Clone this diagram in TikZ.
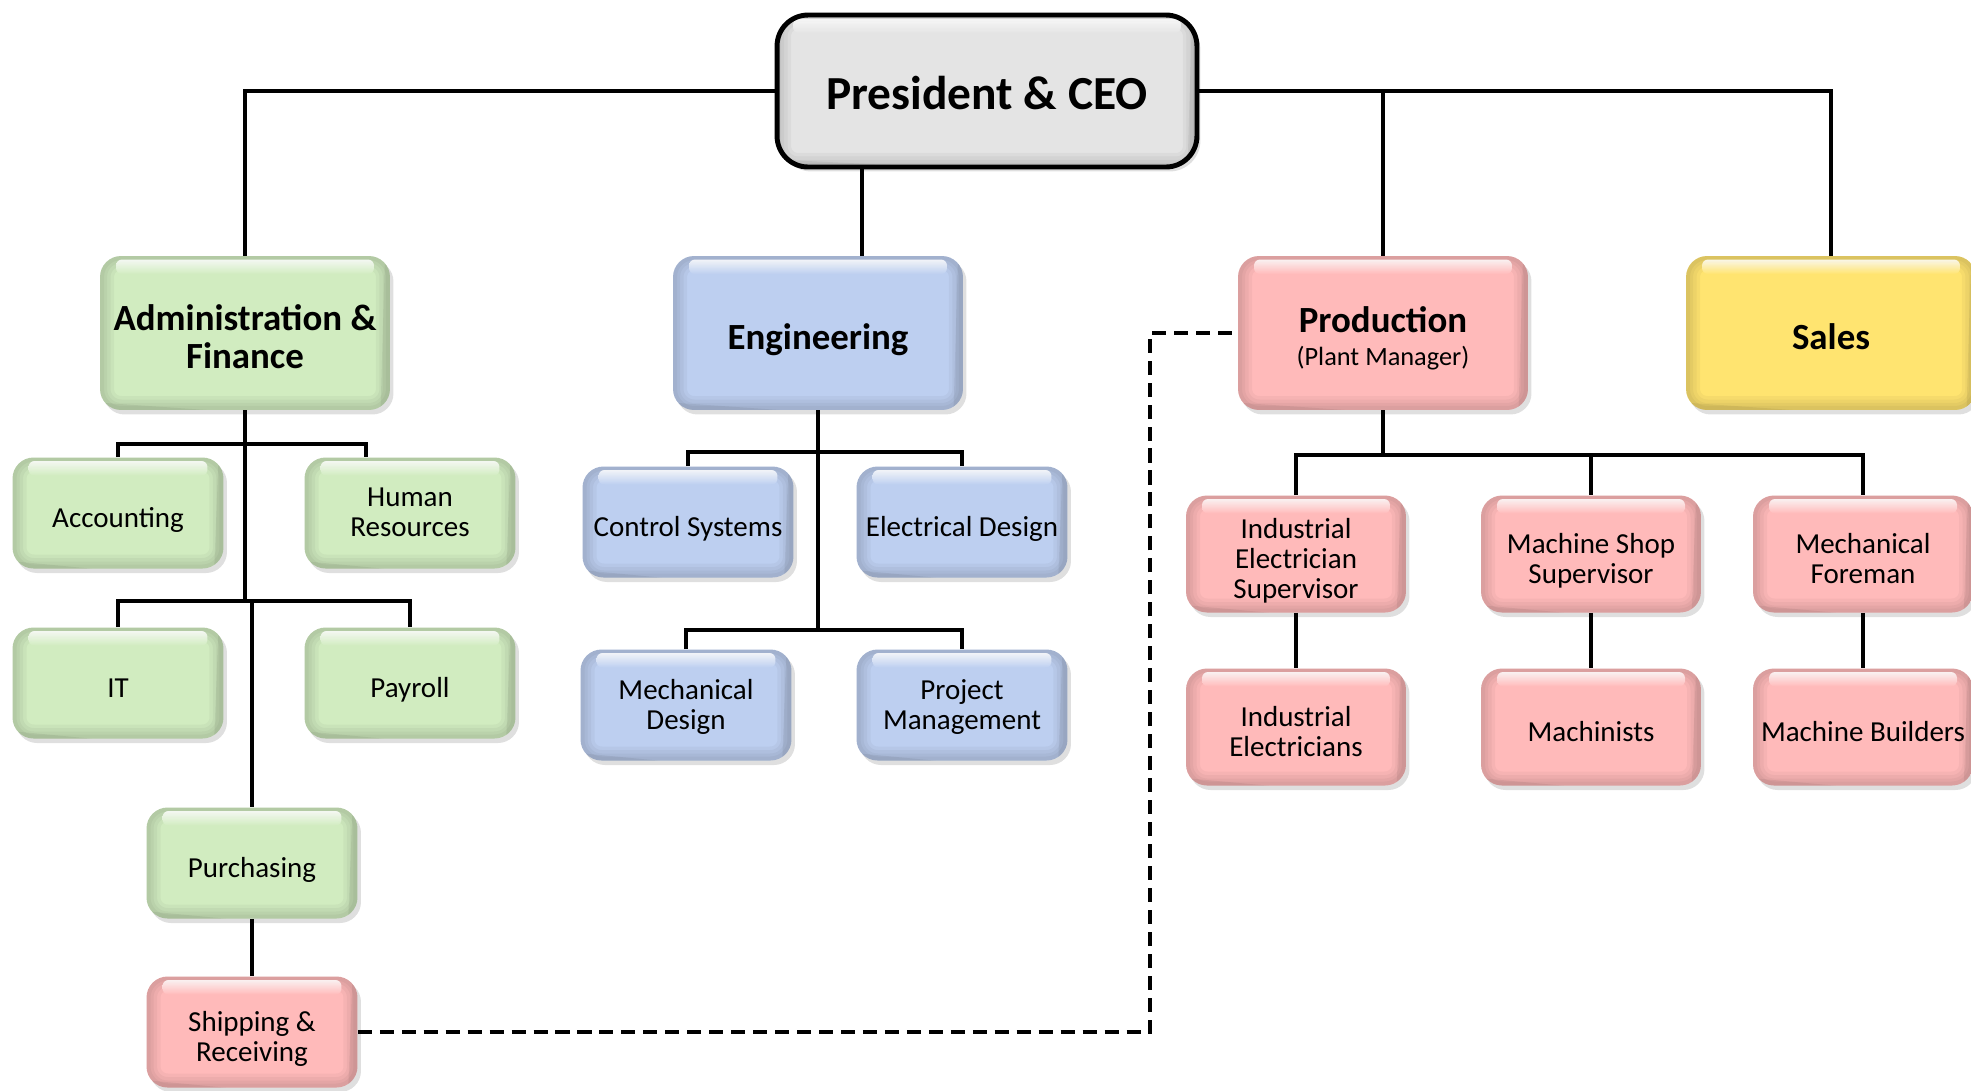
\documentclass[tikz,border=0pt]{standalone}
\usepackage{fontspec}
\setmainfont{Carlito}
\usetikzlibrary{shadows}
\definecolor{cgreen}{RGB}{209,236,192}
\definecolor{cblue}{RGB}{189,207,240}
\definecolor{cpink}{RGB}{255,186,186}
\definecolor{cyellow}{RGB}{255,228,112}
\definecolor{cgray}{RGB}{228,228,228}
\newcommand{\lbl}[2][-5pt]{\raisebox{#1}[\height][\depth]{\begin{tabular}{@{}c@{}}#2\end{tabular}}}
\tikzset{
  conn/.style={line width=2pt},
  dashconn/.style={line width=2.2pt, dash pattern=on 8pt off 4.5pt},
  orgbox/.style={rounded corners=0.42cm, fill=#1, align=center, inner sep=2pt,
    font=\fontsize{16.5}{17}\selectfont,
    drop shadow={shadow xshift=0.07cm, shadow yshift=-0.09cm, opacity=0.25},
    path picture={
      \foreach \w in {0.56,0.42,0.28,0.16}{
        \draw[black, opacity=0.035, line width=\w cm, rounded corners=0.42cm]
          (path picture bounding box.south west) rectangle (path picture bounding box.north east);
      }
      \draw[black, opacity=0.06, line width=0.3cm, rounded corners=0.42cm]
        ([xshift=-0.05cm]path picture bounding box.south west) -- ([xshift=-0.05cm,yshift=-0.4cm]path picture bounding box.south east)
        -- ([yshift=-0.05cm,xshift=0.05cm]path picture bounding box.north east);
      \shade[top color=white, bottom color=#1, opacity=0.85, rounded corners=0.12cm]
        ([xshift=0.32cm,yshift=-0.07cm]path picture bounding box.north west) rectangle
        ([xshift=-0.32cm,yshift=-0.36cm]path picture bounding box.north east);
    }},
  smallbox/.style={orgbox=#1, minimum width=4.22cm, minimum height=2.22cm},
  prodbox/.style={orgbox=#1, minimum width=4.4cm, minimum height=2.34cm},
  headbox/.style={orgbox=#1, minimum width=5.8cm, minimum height=3.08cm,
    font=\fontsize{21}{21.8}\selectfont\bfseries},
}
\begin{document}
\begin{tikzpicture}[x=0.02cm, y=-0.02cm]
\useasboundingbox (0,0) rectangle (1971,1090);

% top level
\node[orgbox=cgray, rounded corners=0.62cm, draw=black, line width=2.8pt,
  minimum width=8.4cm, minimum height=3.04cm, font=\fontsize{27}{28}\selectfont\bfseries]
  (ceo) at (987,91) {\lbl{President \& CEO}};

\node[headbox=cgreen] (admin) at (245,333) {\lbl{Administration \&\\Finance}};
\node[headbox=cblue] (eng) at (818,333) {\lbl{Engineering}};
\node[headbox=cpink] (prod) at (1383,333) {\lbl{Production\\[-3pt]{\mdseries\fontsize{15}{16}\selectfont (Plant Manager)}}};
\node[headbox=cyellow] (sales) at (1831,333) {\lbl{Sales}};

% administration
\node[smallbox=cgreen] (acc) at (118,513) {\lbl{Accounting}};
\node[smallbox=cgreen] (hr) at (410,513) {\lbl[-1.5pt]{Human\\Resources}};
\node[smallbox=cgreen] (it) at (118,683) {\lbl{IT}};
\node[smallbox=cgreen] (pay) at (410,683) {\lbl{Payroll}};
\node[smallbox=cgreen] (pur) at (252,863) {\lbl{Purchasing}};
\node[smallbox=cpink] (ship) at (252,1032) {\lbl{Shipping \&\\Receiving}};

% engineering
\node[smallbox=cblue] (cs) at (688,522) {\lbl{Control Systems}};
\node[smallbox=cblue] (ed) at (962,522) {\lbl{Electrical Design}};
\node[smallbox=cblue] (md) at (686,705) {\lbl[-2pt]{Mechanical\\Design}};
\node[smallbox=cblue] (pm) at (962,705) {\lbl[-2pt]{Project\\Management}};

% production
\node[prodbox=cpink] (ies) at (1296,554) {\lbl{Industrial\\Electrician\\Supervisor}};
\node[prodbox=cpink] (mss) at (1591,554) {\lbl{Machine Shop\\Supervisor}};
\node[prodbox=cpink] (mf) at (1863,554) {\lbl{Mechanical\\Foreman}};
\node[prodbox=cpink] (ie) at (1296,727) {\lbl{Industrial\\Electricians}};
\node[prodbox=cpink] (mach) at (1591,727) {\lbl{Machinists}};
\node[prodbox=cpink] (mb) at (1863,727) {\lbl{Machine Builders}};

% connector points
\coordinate (ceoE) at (862,168);
\coordinate (ab1) at (245,444);
\coordinate (ab2) at (245,601);
\coordinate (eb1) at (818,452);
\coordinate (eb2) at (818,630);
\coordinate (pb) at (1383,455);
\coordinate (dk) at (1150,333);

% top connectors
\draw[conn] (ceo.west) -| (admin.north);
\draw[conn] (ceo.east) -| (sales.north);
\draw[conn] (ceo.east -| prod.north) -- (prod.north);
\draw[conn] (ceoE) -- (ceoE |- eng.north);

% administration tree
\draw[conn] (admin.south) -- (ab2);
\draw[conn] (acc.north) |- (ab1) -| ([xshift=-0.88cm]hr.north);
\draw[conn] (it.north) |- (ab2) -| (pay.north);
\draw[conn] (ab2 -| pur.north) -- (pur.north);
\draw[conn] (pur.south) -- (ship.north);

% engineering tree
\draw[conn] (eng.south) -- (eb2);
\draw[conn] (cs.north) |- (eb1) -| (ed.north);
\draw[conn] (md.north) |- (eb2) -| (pm.north);

% production tree
\draw[conn] (prod.south) -- (pb);
\draw[conn] (ies.north) |- (pb) -| (mf.north);
\draw[conn] (pb -| mss.north) -- (mss.north);
\draw[conn] (ies.south) -- (ie.north);
\draw[conn] (mss.south) -- (mach.north);
\draw[conn] (mf.south) -- (mb.north);

% dashed link
\draw[dashconn] (ship.east) -| (dk) -- (prod.west);
\end{tikzpicture}
\end{document}
